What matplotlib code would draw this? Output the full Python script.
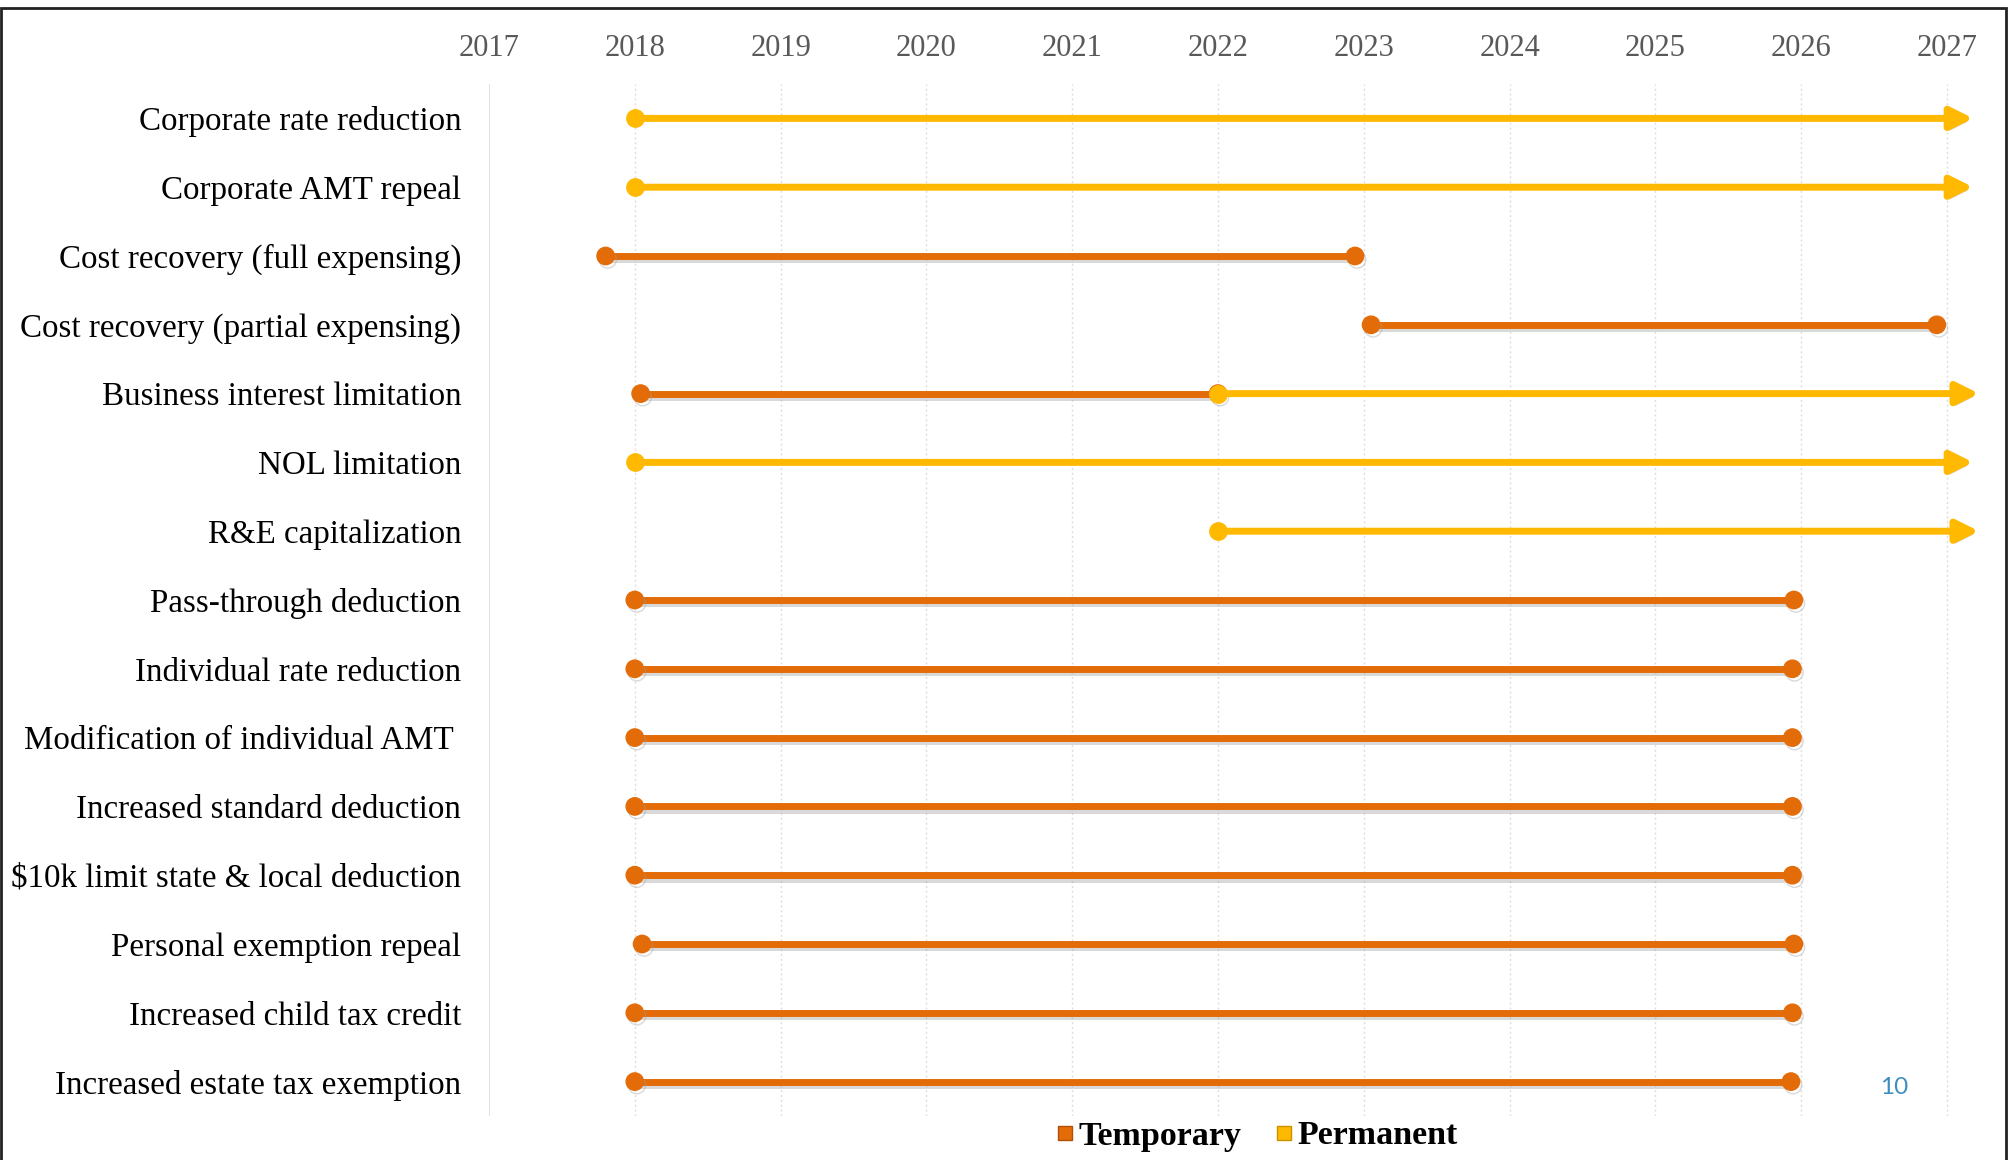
import matplotlib
matplotlib.use("Agg")
import matplotlib.pyplot as plt
import matplotlib.patheffects as pe
from matplotlib.lines import Line2D
from matplotlib.patches import Rectangle

# ---------------- data ----------------
measures = [
    "Corporate rate reduction",
    "Corporate AMT repeal",
    "Cost recovery (full expensing)",
    "Cost recovery (partial expensing)",
    "Business interest limitation",
    "NOL limitation",
    "R&E capitalization",
    "Pass-through deduction",
    "Individual rate reduction",
    "Modification of individual AMT ",
    "Increased standard deduction",
    "$10k limit state & local deduction",
    "Personal exemption repeal",
    "Increased child tax credit",
    "Increased estate tax exemption",
]
# temporary segment (start, end) in years; None = no temporary segment
temp_start = [None, None, 2017.80, 2023.05, 2018.04, None, None, 2018.0, 2018.0, 2018.0, 2018.0, 2018.0, 2018.05, 2018.0, 2018.0]
temp_end   = [None, None, 2022.94, 2026.93, 2022.00, None, None, 2025.95, 2025.94, 2025.94, 2025.94, 2025.94, 2025.95, 2025.94, 2025.93]
# permanent segment start and arrow tip; None = no permanent segment
perm_start = [2018.0, 2018.0, None, None, 2022.0, 2018.0, 2022.0, None, None, None, None, None, None, None, None]
perm_end   = [2027.18, 2027.18, None, None, 2027.22, 2027.18, 2027.22, None, None, None, None, None, None, None, None]
years = list(range(2017, 2028))
legend_labels = ["Temporary", "Permanent"]
page_number = "10"

# ---------------- style ----------------
TEMP = "#E36C09"
PERM = "#FFB900"
SERIF = ["Liberation Serif", "DejaVu Serif"]

W, H = 2011, 1160
fig = plt.figure(figsize=(W / 100, H / 100), dpi=100)
ax = fig.add_axes([489 / W, 1 - 1116 / H, (1998 - 489) / W, (1116 - 84) / H])

ax.set_xlim(2017, 2027.35)
ax.set_ylim(len(measures) - 0.5, -0.5)

shadow = [pe.SimpleLineShadow(offset=(1.5, -2.5), shadow_color="#a0a0a0", alpha=0.4), pe.Normal()]
pshadow = [pe.SimplePatchShadow(offset=(1.5, -2.5), shadow_rgbFace="#a0a0a0", alpha=0.4), pe.Normal()]

for i in range(len(measures)):
    if temp_start[i] is not None:
        ax.plot([temp_start[i], temp_end[i]], [i, i], color=TEMP, lw=5,
                marker="o", markersize=12.5, solid_capstyle="butt", zorder=3,
                path_effects=shadow)
    if perm_start[i] is not None:
        ax.annotate("", xy=(perm_end[i], i), xytext=(perm_start[i], i),
                    arrowprops=dict(arrowstyle="-|>", color=PERM, lw=5,
                                    mutation_scale=33, shrinkA=0, shrinkB=0,
                                    path_effects=pshadow),
                    zorder=4)
        ax.plot([perm_start[i]], [i], color=PERM, marker="o", markersize=12.5,
                linestyle="none", zorder=5)

# gridlines
for yv in years:
    if yv == years[0]:
        ax.axvline(yv, color="#dcdcdc", lw=1.2, zorder=0)
    else:
        ax.axvline(yv, color="#dedede", lw=1.0, linestyle=(0, (1.5, 2)), zorder=0)

ax.xaxis.tick_top()
ax.set_xticks(years)
ax.set_xticklabels([str(y) for y in years], family=SERIF, fontsize=22, color="#595959")
ax.set_yticks(range(len(measures)))
ax.set_yticklabels(measures, family=SERIF, fontsize=23.8, color="black")
ax.tick_params(axis="both", length=0)
ax.tick_params(axis="x", pad=15)
ax.tick_params(axis="y", pad=20)
for s in ax.spines.values():
    s.set_visible(False)

handles = [Line2D([], [], marker="s", linestyle="none", markersize=10,
                  markerfacecolor=TEMP, markeredgecolor="#b04f05"),
           Line2D([], [], marker="s", linestyle="none", markersize=10,
                  markerfacecolor=PERM, markeredgecolor="#c99200")]
fig.legend(handles, legend_labels, loc="center", bbox_to_anchor=(1257 / W, 1 - 1136 / H),
           ncol=2, frameon=False, handlelength=0.5, handletextpad=0.15,
           columnspacing=1.0, prop=dict(family=SERIF, size=24.5, weight="bold"))

fig.text(1894 / W, 1 - 1087 / H, page_number, color="#3E8EC2", fontsize=17.5,
         family=["Lato", "DejaVu Sans"], ha="center", va="center")

fig.add_artist(Rectangle((1 / W, -0.01), 2005 / W, (1160 - 8) / H + 0.01,
                         transform=fig.transFigure, fill=False, lw=2, ec="#222222"))

fig.savefig("out.png", dpi=100)
